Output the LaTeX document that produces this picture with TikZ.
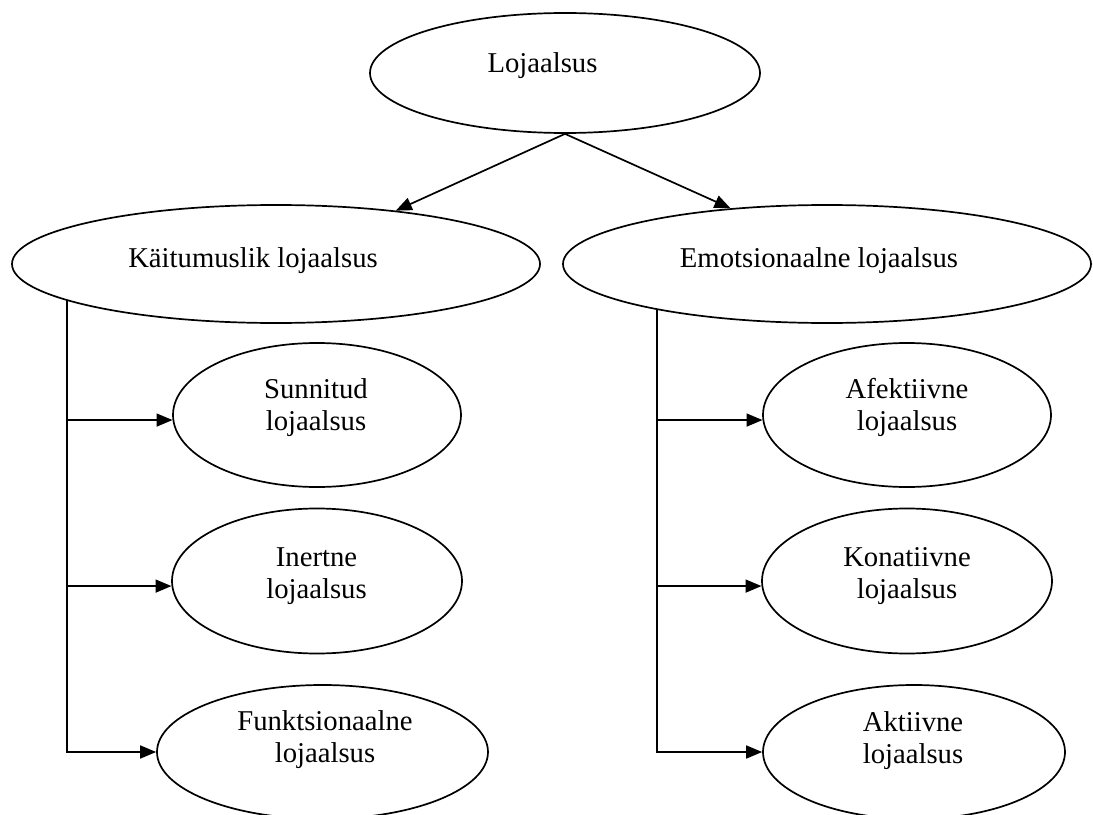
\documentclass[tikz,border=0pt]{standalone}
\usepackage{fontspec}
\setmainfont{Liberation Serif}
\usetikzlibrary{shapes.geometric,arrows.meta}
% two centred lines whose reference point is the first baseline
\newcommand\twolines[2]{\begin{tabular}[t]{@{}c@{}}#1\\#2\end{tabular}}
\begin{document}
\begin{tikzpicture}[x=1bp,y=-1bp,
  oval/.style 2 args={draw, ellipse, line width=1.7bp, inner sep=0pt,
    minimum width=#1bp, minimum height=#2bp},
  lbl/.style={anchor=base, inner sep=0pt, font=\fontsize{28.8}{33}\selectfont},
  conn/.style={line width=1.7bp, line join=miter},
  arr/.style={conn, -{Triangle[length=16bp,width=13bp]}}
]
\fill[white] (0,0) rectangle (1093,815);
\useasboundingbox (0,0) rectangle (1093,815);

% ellipses
\node[oval={390}{120}] (top) at (565,73) {};
\node[oval={528}{118}] (kai) at (276,264) {};
\node[oval={528}{118}] (emo) at (827,264) {};
\node[oval={288}{144}] (sun) at (317,415) {};
\node[oval={290}{145}] (ine) at (317,581) {};
\node[oval={331}{134}] (fun) at (322.5,752) {};
\node[oval={288}{144}] (afe) at (907,415) {};
\node[oval={290}{145}] (kon) at (907,581) {};
\node[oval={302}{134}] (akt) at (914,752) {};

% labels
\node[lbl] (t-top) at (542.5,73) {Lojaalsus};
\node[lbl] (t-kai) at (253,267) {Käitumuslik lojaalsus};
\node[lbl] (t-emo) at (819,267) {Emotsionaalne lojaalsus};
\node[lbl] (t-sun) at (316,398) {\twolines{Sunnitud}{lojaalsus}};
\node[lbl] (t-ine) at (316.5,566) {\twolines{Inertne}{lojaalsus}};
\node[lbl] (t-fun) at (325,730) {\twolines{Funktsionaalne}{lojaalsus}};
\node[lbl] (t-afe) at (907,398) {\twolines{Afektiivne}{lojaalsus}};
\node[lbl] (t-kon) at (907,566) {\twolines{Konatiivne}{lojaalsus}};
\node[lbl] (t-akt) at (913,731) {\twolines{Aktiivne}{lojaalsus}};

% top split
\draw[arr] (top.south) -- (kai.24);
\draw[arr] (top.south) -- (emo.150);

% left trunk, starting on the lower rim of the left ellipse
\coordinate (kt) at (67,300);
\draw[arr] (kt) |- (fun.west);
\draw[arr] (kt |- sun.182) -- (sun.182);
\draw[arr] (kt |- ine.182) -- (ine.182);

% right trunk, starting on the lower rim of the right ellipse
\coordinate (et) at (657,310);
\draw[arr] (et) |- (akt.west);
\draw[arr] (et |- afe.182) -- (afe.182);
\draw[arr] (et |- kon.182) -- (kon.182);
\end{tikzpicture}
\end{document}
